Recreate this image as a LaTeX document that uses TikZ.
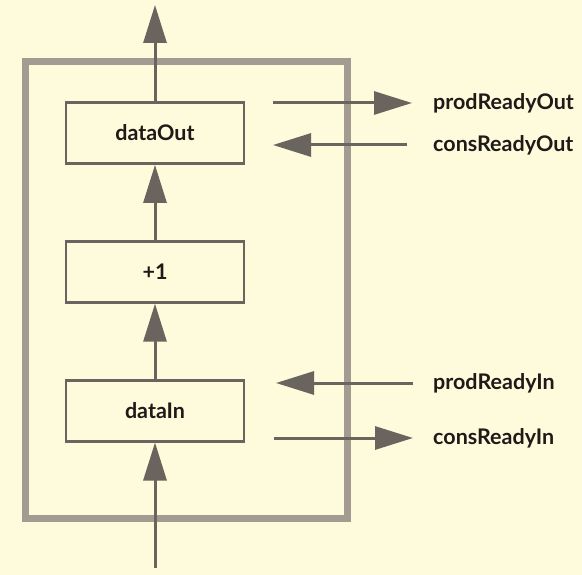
\documentclass[tikz,border=0pt]{standalone}
\usepackage{fontspec}
\setmainfont{Lato}
\usepackage{tikz}
\usetikzlibrary{positioning,arrows.meta}
\definecolor{paper}{HTML}{FEFADC}
\definecolor{ink}{HTML}{6A645E}
\definecolor{rim}{HTML}{A39B92}
\definecolor{word}{HTML}{1E1A18}
\tikzset{stage node/.style={rectangle,draw=ink,line width=2.8pt,minimum width=178pt,minimum height=61pt,inner sep=0pt,text=word,font=\bfseries\fontsize{21.5}{24}\selectfont},}
\tikzset{frame node/.style={rectangle,draw=rim,line width=6.5pt,minimum width=322pt,minimum height=457pt,inner sep=0pt},}
\tikzset{signal node/.style={inner sep=0pt,text=word,font=\bfseries\fontsize{21.5}{24}\selectfont},}
\tikzset{flow/.style={draw=ink,line width=3pt,-{Triangle[length=38pt,width=23pt]}},}

\begin{document}
\begin{tikzpicture}[x=1pt,y=-1pt]
       \fill[paper] (0,0) rectangle (582,575);
       \useasboundingbox (0,0) rectangle (582,575);

       \node[frame node] (unit) at (186.5,290) {};

       \node[stage node] (dataOut) at (155,133) {dataOut};
       \node[stage node] (plus) [below = 75pt of dataOut] {+1};
       \node[stage node] (dataIn) [below = 75pt of plus] {dataIn};

       \coordinate (topEnd) at (155,5);
       \coordinate (bottomEnd) at (155,568);

       % handshake lines on the right
       \coordinate (poFrom) at (273,103);
       \coordinate (poTo) at (412,103);
       \coordinate (coTo) at (273,145);
       \coordinate (coFrom) at (407,145);
       \coordinate (piTo) at (276,383);
       \coordinate (piFrom) at (413,383);
       \coordinate (ciFrom) at (274,438);
       \coordinate (ciTo) at (413,438);

       \node[signal node] (prodReadyOut) [right = 21pt of poTo] {prodReadyOut};
       \node[signal node] (consReadyOut) [right = 26pt of coFrom] {consReadyOut};
       \node[signal node] (prodReadyIn) [right = 20pt of piFrom] {prodReadyIn};
       \node[signal node] (consReadyIn) [right = 20pt of ciTo] {consReadyIn};

       \draw[flow] (dataOut) -- (topEnd);
       \draw[flow] (plus) -- (dataOut);
       \draw[flow] (dataIn) -- (plus);
       \draw[flow] (bottomEnd) -- (dataIn);

       \draw[flow] (poFrom) -- (poTo);
       \draw[flow] (coFrom) -- (coTo);
       \draw[flow] (piFrom) -- (piTo);
       \draw[flow] (ciFrom) -- (ciTo);
    \end{tikzpicture}
\end{document}
